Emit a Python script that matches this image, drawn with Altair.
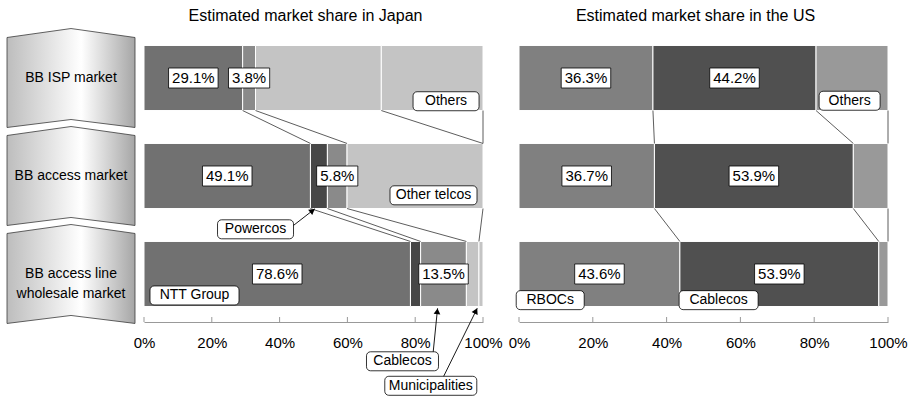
import math
import altair as alt
import pandas as pd

# ---------------- data ----------------
ROW_NAMES = ["BB ISP market", "BB access market", "BB access line\nwholesale market"]
TITLE_JP = "Estimated market share in Japan"
TITLE_US = "Estimated market share in the US"
TICKS = [0, 20, 40, 60, 80, 100]

JP_CATS = [
    ["NTT Group", "Cablecos", "Other telcos", "Others"],
    ["NTT Group", "Powercos", "Cablecos", "Other telcos"],
    ["NTT Group", "Powercos", "Cablecos", "Municipalities", "Others"],
]
JP_VALS = [
    [29.1, 3.8, 37.1, 30.0],
    [49.1, 5.0, 5.8, 40.1],
    [78.6, 3.0, 13.5, 3.7, 1.2],
]
JP_LABELLED = [
    [True, True, False, False],
    [True, False, True, False],
    [True, False, True, False, False],
]
JP_LINKS = [
    [(29.1, 49.1), (32.9, 59.9), (70.0, 100.0), (100.0, 100.0)],
    [(49.1, 78.6), (54.1, 81.6), (59.9, 95.1), (100.0, 98.8)],
]

US_CATS = [
    ["RBOCs", "Cablecos", "Others"],
    ["RBOCs", "Cablecos", "Others"],
    ["RBOCs", "Cablecos", "Others"],
]
US_VALS = [
    [36.3, 44.2, 19.5],
    [36.7, 53.9, 9.4],
    [43.6, 53.9, 2.5],
]
US_LABELLED = [
    [True, True, False],
    [True, True, False],
    [True, True, False],
]
US_LINKS = [
    [(36.3, 36.7), (80.5, 90.6), (100.0, 100.0)],
    [(36.7, 43.6), (90.6, 97.5), (100.0, 100.0)],
]

# ---------------- styles / layout ----------------
FONT = "Liberation Sans"
JP_COLORS = {"NTT Group": "#717171", "Powercos": "#474747", "Cablecos": "#8a8a8a",
             "Other telcos": "#c4c4c4", "Others": "#c4c4c4", "Municipalities": "#c4c4c4"}
US_COLORS = {"RBOCs": "#808080", "Cablecos": "#505050", "Others": "#999999"}

PLOT_H = 292
Y_DOMAIN = [-0.49, 2.49]
PX_PER_ROW = PLOT_H / (Y_DOMAIN[1] - Y_DOMAIN[0])
HALF_BAND = 0.332
JP_W = 339
US_W = 369
CHEV_W = 142

# callouts: text, x centre (%), y centre (row units), box width (px)
JP_CALLOUTS = [("Others", 89.1, 0.237, 66), ("Other telcos", 85.4, 1.197, 87),
               ("NTT Group", 14.9, 2.219, 89), ("Powercos", 32.9, 1.544, 76),
               ("Cablecos", 76.25, 2.891, 72), ("Municipalities", 84.6, 3.141, 92)]
US_CALLOUTS = [("Others", 89.6, 0.232, 61), ("RBOCs", 8.46, 2.267, 68),
               ("Cablecos", 54.1, 2.267, 79)]
# arrows: from x, from y, to x, to y
JP_ARROWS = [(44.0, 1.507, 50.4, 1.335), (85.3, 2.799, 86.6, 2.350),
             (88.3, 3.051, 98.3, 2.350)]
US_ARROWS = []

ARIAL_W = {".": 0.278, "%": 0.889}


def text_w(s, size):
    return sum(ARIAL_W.get(ch, 0.556) for ch in s) * size


def panel(cats, vals, labelled, links, colors, width, title, callouts, arrows):
    px_pct = width / 100.0
    xs = alt.Scale(domain=[0, 100], nice=False, zero=False)
    ys = alt.Scale(domain=Y_DOMAIN, reverse=True, nice=False, zero=False)
    axis = alt.Axis(values=TICKS, labelExpr="datum.value + '%'", ticks=False, grid=False,
                    domainColor="#999999", domainWidth=1, labelFont=FONT, labelFontSize=15,
                    labelColor="black", labelPadding=13, labelFlush=False, title=None)

    def X(f):
        return alt.X(f, scale=xs, axis=axis, title=None)

    def Y(f):
        return alt.Y(f, scale=ys, axis=None)

    seg, pct = [], []
    for r, (cs, vs, ls) in enumerate(zip(cats, vals, labelled)):
        c0 = 0.0
        for c, v, l in zip(cs, vs, ls):
            seg.append(dict(cat=c, x0=c0, x1=c0 + v, y0=r - HALF_BAND, y1=r + HALF_BAND))
            if l:
                t = f"{v:.1f}%"
                xc = c0 + v / 2
                hw = (text_w(t, 15) + 7) / 2 / px_pct
                hh = 10 / PX_PER_ROW
                pct.append(dict(t=t, xc=xc, yc=r, lo=xc - hw, hi=xc + hw, ylo=r - hh, yhi=r + hh))
            c0 += v
    seg = pd.DataFrame(seg)
    pct = pd.DataFrame(pct)

    lk = []
    for t, pairs in enumerate(links):
        for a, b in pairs:
            lk.append(dict(a=a, b=b, ya=t + HALF_BAND, yb=t + 1 - HALF_BAND))
    lk = pd.DataFrame(lk)

    co = []
    for t, xc, yc, w in callouts:
        hw = w / 2 / px_pct
        hh = 9.5 / PX_PER_ROW
        co.append(dict(t=t, xc=xc, yc=yc, lo=xc - hw, hi=xc + hw, ylo=yc - hh, yhi=yc + hh))
    co = pd.DataFrame(co)

    bars = alt.Chart(seg).mark_rect(stroke="white", strokeWidth=1).encode(
        x=X("x0:Q"), x2="x1:Q", y=Y("y0:Q"), y2="y1:Q",
        color=alt.Color("cat:N", scale=alt.Scale(domain=list(colors.keys()),
                                                 range=list(colors.values())), legend=None),
    )
    ticks = alt.Chart(pd.DataFrame({"v": TICKS})).mark_rule(color="#999999", strokeWidth=1).encode(
        x=X("v:Q"), y=alt.value(PLOT_H - 5), y2=alt.value(PLOT_H))
    rules = alt.Chart(lk).mark_rule(color="#333333", strokeWidth=0.8).encode(
        x=X("a:Q"), x2="b:Q", y=Y("ya:Q"), y2="yb:Q")
    pbox = alt.Chart(pct).mark_rect(fill="white", stroke="black", strokeWidth=0.8).encode(
        x=X("lo:Q"), x2="hi:Q", y=Y("ylo:Q"), y2="yhi:Q")
    ptxt = alt.Chart(pct).mark_text(font=FONT, fontSize=15, color="black", baseline="middle").encode(
        x=X("xc:Q"), y=Y("yc:Q"), text="t:N")
    cbox = alt.Chart(co).mark_rect(fill="white", stroke="black", strokeWidth=0.8, cornerRadius=4).encode(
        x=X("lo:Q"), x2="hi:Q", y=Y("ylo:Q"), y2="yhi:Q")
    ctxt = alt.Chart(co).mark_text(font=FONT, fontSize=14, color="black", baseline="middle").encode(
        x=X("xc:Q"), y=Y("yc:Q"), text="t:N")

    layers = [bars, ticks, rules, pbox, ptxt]
    if arrows:
        ar, heads = [], []
        for x1, y1, x2, y2 in arrows:
            dxp = (x2 - x1) * px_pct
            dyp = (y2 - y1) * PX_PER_ROW
            L = math.hypot(dxp, dyp)
            ang = math.degrees(math.atan2(dxp, -dyp)) % 360
            back = 3.0 / L
            ar.append(dict(a=x1, b=x2, ya=y1, yb=y2))
            heads.append(dict(x=x2 - (x2 - x1) * back, y=y2 - (y2 - y1) * back, ang=ang))
        ar = pd.DataFrame(ar)
        heads = pd.DataFrame(heads)
        layers.append(alt.Chart(ar).mark_rule(color="black", strokeWidth=0.9).encode(
            x=X("a:Q"), x2="b:Q", y=Y("ya:Q"), y2="yb:Q"))
        layers.append(alt.Chart(heads).mark_point(shape="triangle-up", filled=True, color="black",
                                                  size=45, opacity=1).encode(
            x=X("x:Q"), y=Y("y:Q"), angle=alt.Angle("ang:Q", scale=None)))
    layers += [cbox, ctxt]
    return alt.layer(*layers).properties(
        width=width, height=PLOT_H,
        title=alt.TitleParams(text=title, font=FONT, fontSize=16, fontWeight="normal",
                              color="black", anchor="middle", dx=-8, offset=6))


CHEV_PATH = "M-1,-0.633L0,-0.773L1,-0.633L1,0.773L0,0.648L-1,0.773Z"
grad = alt.LinearGradient(gradient="linear", x1=0, x2=1, y1=0, y2=0, stops=[
    alt.GradientStop(offset=0, color="#bdbdbd"),
    alt.GradientStop(offset=0.58, color="#ffffff"),
    alt.GradientStop(offset=1, color="#a6a6a6")])

chev_df = pd.DataFrame({"row": [0, 1, 2], "name": ROW_NAMES, "x": [0.5, 0.5, 0.5]})
cx = alt.Scale(domain=[0, 1], nice=False, zero=False)
cy = alt.Scale(domain=Y_DOMAIN, reverse=True, nice=False, zero=False)
chev = alt.Chart(chev_df).mark_point(shape=CHEV_PATH, size=128 * 128, filled=True, fill=grad,
                                     stroke="#3a3a3a", strokeWidth=0.8, opacity=1).encode(
    x=alt.X("x:Q", scale=cx, axis=None), y=alt.Y("row:Q", scale=cy, axis=None))
chev_txt = alt.Chart(chev_df).mark_text(font=FONT, fontSize=14, color="black", lineBreak="\n",
                                        lineHeight=20, baseline="middle").encode(
    x=alt.X("x:Q", scale=cx, axis=None), y=alt.Y("row:Q", scale=cy, axis=None), text="name:N")
chev_panel = alt.layer(chev, chev_txt).properties(width=CHEV_W, height=PLOT_H)

jp = panel(JP_CATS, JP_VALS, JP_LABELLED, JP_LINKS, JP_COLORS, JP_W, TITLE_JP, JP_CALLOUTS, JP_ARROWS)
us = panel(US_CATS, US_VALS, US_LABELLED, US_LINKS, US_COLORS, US_W, TITLE_US, US_CALLOUTS, US_ARROWS)

inner = alt.hconcat(jp, us, spacing=36, bounds="flush").resolve_scale(color="independent")
chart = alt.hconcat(chev_panel, inner, spacing=2, bounds="flush").properties(
    padding={"left": 0, "top": 8, "right": 5, "bottom": 0}
).configure_view(strokeWidth=0)

chart.save("out.html", embed_options={"renderer": "svg", "actions": False})
